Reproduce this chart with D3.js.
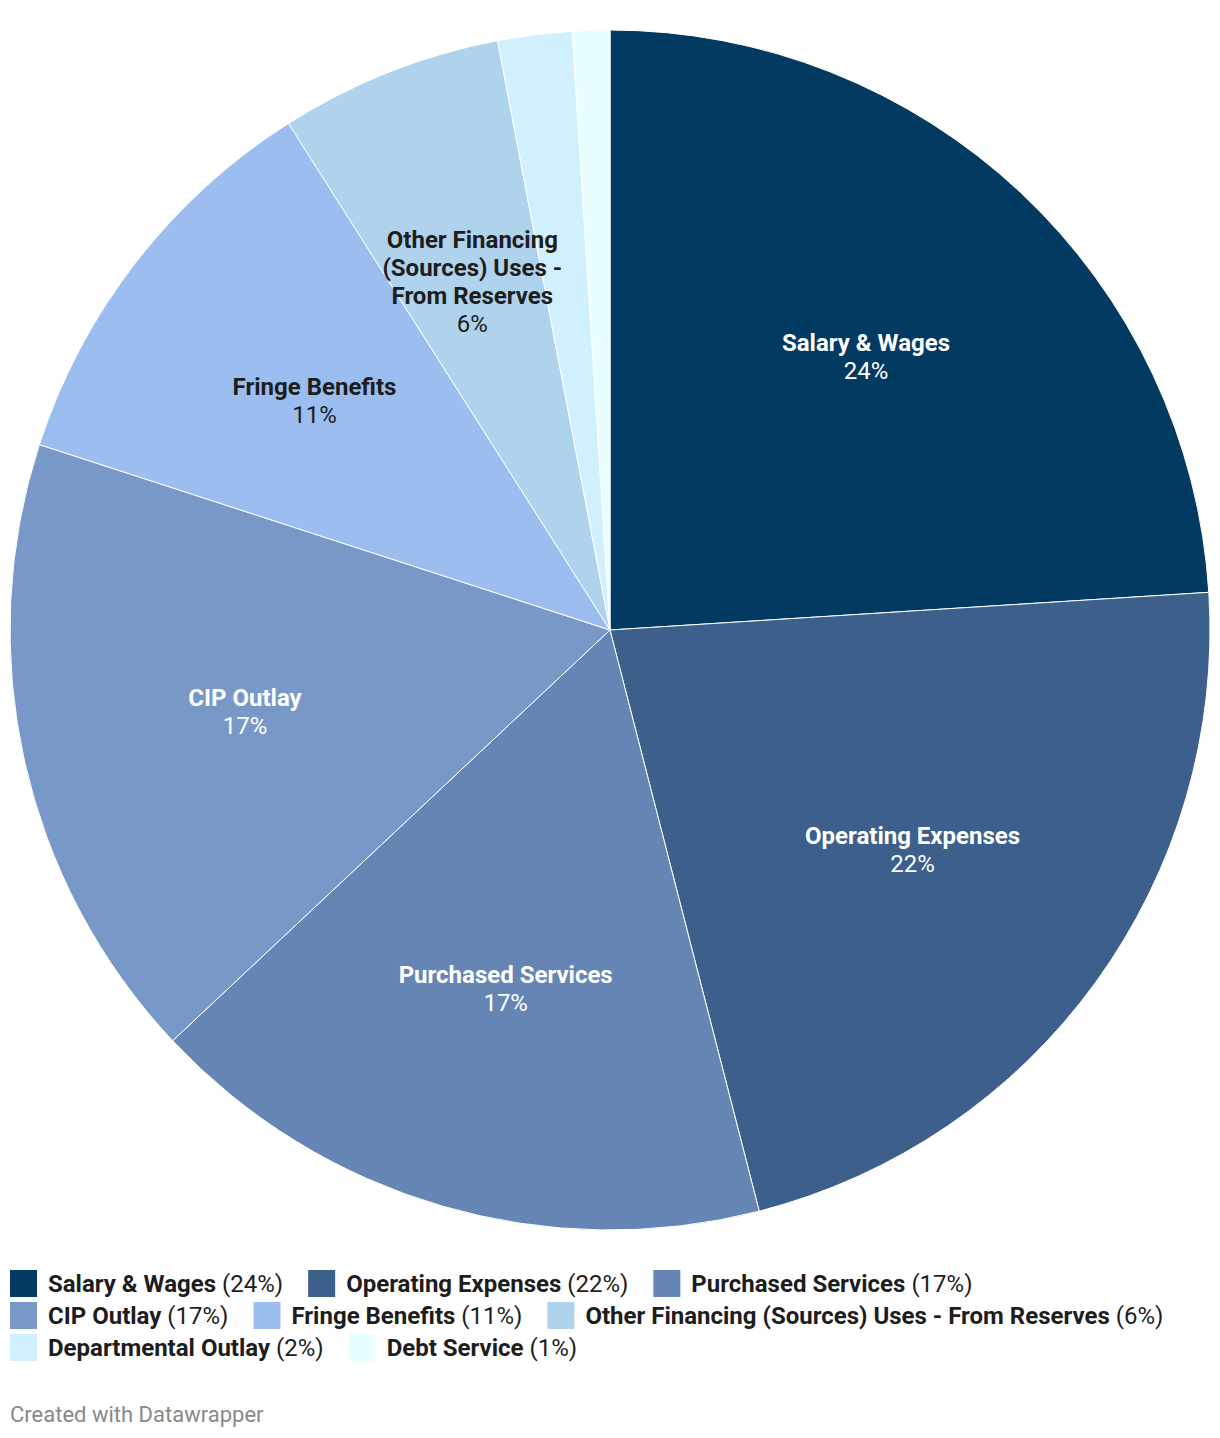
<!DOCTYPE html>
<html>
<head>
<meta charset="utf-8">
<script src="https://cdn.jsdelivr.net/npm/d3@7"></script>
<style>
  body { margin: 0; background: #fff; font-family: Roboto, "Noto Sans", sans-serif; }
  svg text { font-family: Roboto, "Noto Sans", sans-serif; }
</style>
</head>
<body>
<svg id="chart" width="1220" height="1438"></svg>
<script>
var categories = ["Salary & Wages", "Operating Expenses", "Purchased Services", "CIP Outlay",
  "Fringe Benefits", "Other Financing (Sources) Uses - From Reserves", "Departmental Outlay", "Debt Service"];
var values = [24, 22, 17, 17, 11, 6, 2, 1];
var colors = ["#033a62", "#3c5f8c", "#6586b5", "#7899c8", "#9bbdef", "#afd2ed", "#d1f0fd", "#e8feff"];
var labelColors = ["#fff", "#fff", "#fff", "#fff", "#1d1d1d", "#1d1d1d", "#1d1d1d", "#1d1d1d"];

var data = categories.map(function(c, i) { return { name: c, value: values[i], i: i }; });

var svg = d3.select("#chart");
var cx = 610, cy = 630, radius = 600;
var fmt = function(v) { return v + "%"; };

var pie = d3.pie().sort(null).value(function(d) { return d.value; });
var arc = d3.arc().innerRadius(0).outerRadius(radius);
var labelArc = d3.arc().innerRadius(374).outerRadius(374);

var g = svg.append("g").attr("transform", "translate(" + cx + "," + cy + ")");
var arcs = pie(data);

g.selectAll("path")
  .data(arcs)
  .enter().append("path")
  .attr("d", arc)
  .attr("fill", function(d) { return colors[d.data.i]; })
  .attr("stroke", "#fff")
  .attr("stroke-width", 1);

// measure + wrap helper
var fs = 24;
var measure = svg.append("text").attr("font-size", fs).attr("font-weight", 700).attr("visibility", "hidden");
function wrapWords(text, maxW) {
  var words = text.split(" "), lines = [], cur = "";
  words.forEach(function(w) {
    var test = cur ? cur + " " + w : w;
    measure.text(test);
    if (cur && measure.node().getComputedTextLength() > maxW) {
      lines.push(cur);
      cur = w;
    } else {
      cur = test;
    }
  });
  if (cur) lines.push(cur);
  return lines;
}

var lineH = 28;
arcs.filter(function(d) { return d.data.value >= 5; }).forEach(function(d) {
  var c = labelArc.centroid(d);
  var lines = d.data.value < 10 ? wrapWords(d.data.name, 220) : [d.data.name];
  var total = lines.length + 1;
  var t = g.append("text")
    .attr("text-anchor", "middle")
    .attr("font-size", fs)
    .attr("fill", labelColors[d.data.i]);
  var y0 = c[1] - (total - 1) * lineH / 2 + 8;
  lines.forEach(function(l, k) {
    t.append("tspan").attr("x", c[0]).attr("y", y0 + k * lineH)
      .attr("font-weight", 700).text(l);
  });
  t.append("tspan").attr("x", c[0]).attr("y", y0 + lines.length * lineH)
    .attr("font-weight", 400).text(fmt(d.data.value));
});
measure.remove();

// legend
var legend = svg.append("g");
var lx = 10, ly = 1270, rowH = 32, maxX = 1210;
data.forEach(function(d) {
  var item = legend.append("g");
  var t = item.append("text").attr("x", 38).attr("y", 22).attr("font-size", fs).attr("fill", "#1d1d1d");
  t.append("tspan").attr("font-weight", 700).text(d.name);
  t.append("tspan").attr("font-weight", 400).text(" (" + fmt(d.value) + ")");
  var w = 38 + t.node().getComputedTextLength();
  if (lx + w > maxX) { lx = 10; ly += rowH; }
  item.attr("transform", "translate(" + lx + "," + ly + ")");
  item.insert("rect", "text").attr("width", 27).attr("height", 27).attr("fill", colors[d.i]);
  lx += w + 25;
});

svg.append("text")
  .attr("x", 10).attr("y", 1422)
  .attr("font-size", 22)
  .attr("fill", "#888")
  .text("Created with Datawrapper");
</script>
</body>
</html>
